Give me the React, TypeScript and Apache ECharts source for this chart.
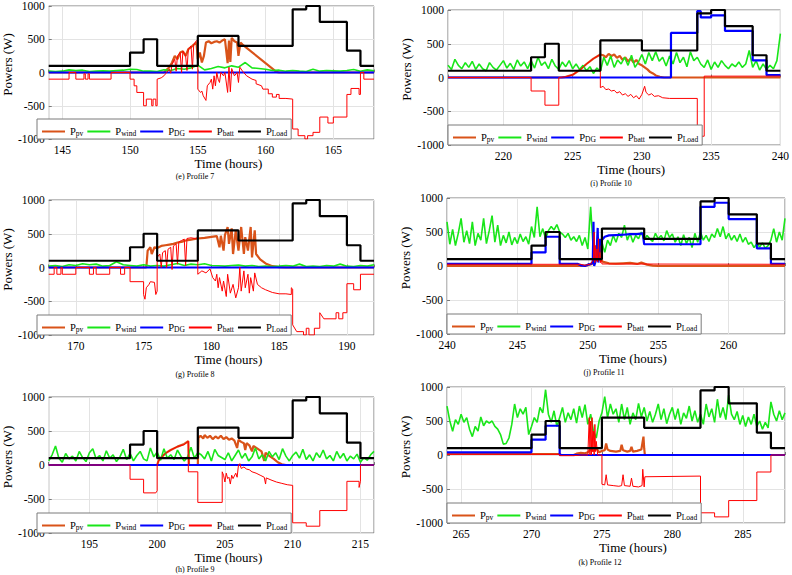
import React, { useEffect, useRef } from "react";
import * as echarts from "echarts";

// ---------------- DATA ----------------
// Panel (e) Profile 7 : 144-168 h
const LOAD_E = [[144,100],[150,300],[151,500],[152,100],[155,550],[158,400],[162,950],[163,1000],[164,760],[166,330],[167,100],[168,100]];
const DG_E = [[144,0],[168,0]];
const PV_E = [[144,0],[152.5,0],[152.7,40],[152.9,80],[153.1,150],[153.3,250],[153.5,200],[153.7,300],[153.9,320],[154.1,250],[154.3,350],[154.5,380],[154.7,420],[154.9,450],[155.0,200],[155.15,300],[155.3,150],[155.45,250],[155.6,450],[155.8,470],[156,440],[156.2,460],[156.4,470],[156.6,450],[156.8,480],[157,500],[157.2,140],[157.3,480],[157.4,160],[157.5,520],[157.7,470],[157.9,450],[158.0,250],[158.15,450],[158.3,420],[160.8,10],[161,0],[168,0]];
const BATT_E = [[144,-100],[145.5,-100],[145.5,0],[146,0],[146,-100],[146.6,-100],[146.6,-20],[146.7,-20],[146.7,-100],[146.9,-100],[146.9,-20],[147,-20],[147,-100],[148.6,-100],[148.6,0],[150,0],[150,-100],[150.3,-100],[150.3,-200],[150.5,-200],[150.5,-300],[151,-300],[151,-500],[151.2,-500],[151.2,-400],[151.6,-400],[151.6,-500],[151.7,-500],[151.7,-400],[151.9,-400],[151.9,-500],[152,-500],[152,-100],[152.3,-80],[152.5,-50],[152.7,0],[152.9,50],[153,-10],[153.1,120],[153.3,200],[153.4,20],[153.5,250],[153.7,300],[153.8,0],[153.9,320],[154.1,250],[154.2,30],[154.3,350],[154.5,400],[154.6,50],[154.7,420],[154.9,480],[155,450],[155,-250],[155.2,-300],[155.3,-280],[155.4,-350],[155.6,-420],[155.7,-200],[155.9,-150],[156,-100],[156.1,-250],[156.2,-50],[156.3,-200],[156.4,0],[156.5,-100],[156.6,-150],[156.7,0],[156.9,-50],[157,0],[157.2,-300],[157.3,80],[157.4,-290],[157.5,60],[157.7,-50],[157.9,0],[158,-150],[158.1,80],[158.3,20],[158.6,-50],[159,-100],[159.3,-120],[159.3,-170],[159.7,-200],[159.8,-250],[160.2,-250],[160.2,-320],[160.5,-320],[160.5,-370],[160.8,-370],[160.8,-330],[161,-330],[161,-390],[161.5,-390],[161.5,-400],[162,-400],[162,-850],[162.4,-850],[162.4,-950],[162.9,-950],[162.9,-1000],[163.1,-1000],[163.1,-950],[163.5,-950],[163.5,-900],[164,-900],[164,-670],[164.6,-670],[164.6,-760],[165,-760],[165,-670],[166,-670],[166,-330],[166.3,-330],[166.3,-240],[166.9,-240],[166.9,-330],[167,-330],[167,0],[167.25,0],[167.25,-100],[168,-100]];
const WIND_E_START = 144, WIND_E_STEP = 0.5;
const WIND_E = [20,15, 20,40, 30,35, 15,20, 25,20, 30,35, 50,45, 20,20, 15,40, 30,60, 50,70, 110,40, 60,90, 70,100, 80,150, 70,60, 50,30, 35,20, 30,20, 15,50, 20,30, 25,20, 30,45, 20,40, 25];

// Panel (i) Profile 10 : 216-240 h
const LOAD_I = [[216,100],[222,300],[223,500],[224,100],[227,550],[230,400],[234,950],[235,1000],[236,760],[238,330],[239,100],[240,100]];
const DG_I = [[216,0],[232.1,0],[232.1,660],[234,660],[234,985],[234.25,985],[234.25,890],[235,890],[235,920],[236,920],[236,690],[238,690],[238,255],[239,255],[239,35],[240,35]];
const PV_I = [[216,0],[224.2,0],[224.5,10],[225,40],[225.5,110],[226,200],[226.5,280],[227,340],[227.2,330],[227.4,300],[227.6,350],[227.8,320],[228,340],[228.2,290],[228.4,320],[228.6,260],[228.8,300],[229,240],[229.2,280],[229.4,220],[229.6,260],[229.8,200],[230,180],[230.2,150],[230.4,120],[230.6,80],[230.8,60],[231,30],[231.3,10],[231.6,0],[240,0]];
const BATT_I = [[216,0],[222,0],[222,-200],[223,-200],[223,-410],[224,-410],[224,0],[224.5,10],[225,40],[225.5,110],[226,200],[226.5,280],[227,340],[227,-150],[227.2,-130],[227.4,-180],[227.6,-170],[227.8,-200],[228,-190],[228.2,-230],[228.4,-210],[228.6,-260],[228.8,-240],[229,-280],[229.2,-250],[229.4,-300],[229.6,-270],[229.8,-320],[230,-250],[230.2,-130],[230.3,-220],[230.5,-260],[230.7,-240],[230.9,-280],[231.2,-270],[231.5,-300],[232,-310],[234,-310],[234,-870],[234.5,-870],[234.5,20],[240,20]];
const WIND_I_START = 216, WIND_I_STEP = 0.25;
const WIND_I = [180,120,270,180, 130,220,150,240, 120,200,130,100, 220,150,110,180, 250,140,210,120, 260,170,230,130, 250,140,300,180, 230,130,270,170, 120,230,160,250, 130,200,120,180, 100,160,60,140, 90,300,180,320, 150,260,200,300, 180,330,150,230, 340,200,370,250, 380,240,300,170, 320,200,370,220, 300,160,380,250, 300,200,150,260, 120,230,150,250, 180,130,200,160, 230,150,200,400, 150,250,110,200, 120,180,130,250, 650];

// Panel (g) Profile 8 : 168-192 h
const LOAD_G = [[168,100],[174,300],[175,500],[176,100],[179,550],[182,400],[186,950],[187,1000],[188,760],[190,330],[191,100],[192,100]];
const DG_G = [[168,0],[192,0]];
const PV_G = [[168,0],[175.2,0],[175.3,250],[175.5,300],[175.6,200],[175.8,300],[176,290],[176.3,320],[176.6,330],[176.9,340],[177.2,350],[177.5,370],[177.8,380],[178.1,400],[178.4,410],[178.7,420],[179,430],[179.5,440],[180,455],[180.4,465],[180.6,300],[180.7,470],[180.9,250],[181.0,480],[181.2,600],[181.3,350],[181.5,580],[181.6,200],[181.8,550],[182.0,250],[182.2,600],[182.4,200],[182.5,450],[182.7,250],[182.9,600],[183.0,150],[183.2,550],[183.3,200],[183.6,120],[184,60],[184.5,20],[185,5],[185.5,0],[192,0]];
const BATT_G = [[168,-100],[168.4,-100],[168.4,0],[168.6,0],[168.6,-100],[168.9,-100],[168.9,0],[169,0],[169,-100],[170,-100],[170,0],[171,0],[171,-100],[171.3,-100],[171.3,0],[171.5,0],[171.5,-100],[172.5,-100],[172.5,0],[173.3,0],[173.3,-100],[173.6,-100],[173.6,0],[174,0],[174,-210],[175,-210],[175,-400],[175.1,-470],[175.2,-300],[175.4,-250],[175.5,-210],[175.8,-220],[175.9,-400],[176,-350],[176,150],[176.2,200],[176.3,0],[176.4,220],[176.6,250],[176.7,0],[176.8,270],[177,300],[177.1,-30],[177.2,320],[177.4,350],[177.5,50],[177.6,380],[177.8,400],[178,420],[178.1,30],[178.2,430],[178.5,440],[178.8,430],[179,440],[179,-100],[179.3,-50],[179.6,-80],[179.9,-20],[180.1,-150],[180.3,-200],[180.4,-100],[180.5,-300],[180.6,-150],[180.8,-350],[180.9,-200],[181.1,-430],[181.2,-100],[181.4,-380],[181.6,-250],[181.8,-450],[182,-300],[182.1,0],[182.2,-350],[182.4,-50],[182.5,-300],[182.7,-100],[182.8,-380],[182.9,-150],[183.1,-350],[183.2,-80],[183.4,-250],[183.7,-300],[184,-330],[184.5,-370],[185,-390],[185.5,-390],[185.9,-400],[185.9,-300],[186,-320],[186,-850],[186.3,-950],[186.8,-950],[186.8,-1000],[187,-1000],[187,-900],[187.2,-900],[187.2,-1000],[187.6,-1000],[187.6,-900],[188,-900],[188,-670],[188.3,-760],[189.2,-760],[189.2,-670],[189.4,-670],[189.4,-760],[189.7,-760],[189.7,-670],[190,-670],[190,-240],[190.5,-240],[190.5,-330],[191,-330],[191,-100],[192,-100]];
const WIND_G_START = 168, WIND_G_STEP = 0.5;
const WIND_G = [20,30, 15,40, 30,55, 40,50, 20,30, 85,40, 30,20, 40,20, 30,20, 40,60, 30,50, 40,55, 30,25, 20,30, 35,20, 30,15, 20,15, 20,30, 20,50, 15,20, 15,30, 20,50, 20,15, 30,20, 40];

// Panel (j) Profile 11 : 240-264 h
const LOAD_J = [[240,100],[246,300],[247,500],[248,100],[251,550],[254,400],[258,950],[259,1000],[260,760],[262,330],[263,100],[264,100]];
const DG_J = [[240,30],[246,30],[246,200],[247,200],[247,430],[248,430],[248,30],[249.3,30],[249.5,10],[249.8,0],[250,20],[250.2,30],[250.35,50],[250.4,650],[250.45,0],[250.6,100],[250.7,560],[250.75,50],[250.85,400],[250.9,200],[251,380],[251.2,430],[251.5,450],[252,455],[252.5,460],[253,470],[253.5,470],[253.9,480],[254,320],[258,320],[258,870],[259,870],[259,930],[260,930],[260,690],[262,690],[262,260],[263,260],[263,30],[264,30]];
const PV_J = [[240,0],[249.5,0],[250,10],[250.3,30],[250.5,80],[250.7,120],[250.9,90],[251.1,60],[251.5,40],[252,35],[252.5,40],[253,45],[253.5,30],[253.8,50],[254.2,20],[254.6,5],[255,0],[264,0]];
const BATT_J = [[240,25],[249.5,25],[249.8,10],[250.2,30],[250.4,100],[250.45,500],[250.5,50],[250.55,300],[250.6,80],[250.65,250],[250.7,60],[250.75,400],[250.8,100],[250.85,200],[250.9,50],[250.95,300],[251,30],[264,25]];
const WIND_J_START = 240, WIND_J_STEP = 0.2;
const WIND_J = [650,320,540,300,480, 700,350,520,330,650, 300,480,380,700,330, 520,740,350,600,300, 450,340,500,310,420, 330,470,360,430,320, 580,420,870,430,550, 400,520,580,530,610, 500,470,420,480,380, 430,360,450,300,420, 250,870,200,300,150, 350,200,380,300,450, 350,480,420,600,380, 480,350,450,400,500, 380,450,400,360,480, 400,450,370,520,420, 470,350,430,300,460, 330,420,270,480,350, 500,380,450,360,470, 420,550,430,580,400, 480,380,450,360,470, 350,420,320,350,270, 330,280,340,260,300, 380,550,350,500,380, 700];

// Panel (h) Profile 9 : 192-216 h
const LOAD_H = [[192,100],[198,300],[199,500],[200,100],[203,550],[206,400],[210,950],[211,1000],[212,760],[214,330],[215,100],[216,100]];
const DG_H = [[192,0],[216,0]];
const PV_H = [[192,0],[200,0],[200.1,60],[200.3,110],[200.6,170],[201,220],[201.5,270],[202,310],[202.3,350],[202.35,0],[203,0],[203.05,400],[203.2,430],[203.4,390],[203.5,440],[203.7,400],[203.9,430],[204.1,380],[204.3,420],[204.5,390],[204.7,430],[204.9,380],[205.1,410],[205.3,370],[205.5,390],[205.7,360],[205.9,250],[206,370],[206.2,340],[206.4,320],[206.5,220],[206.6,320],[206.8,290],[207,200],[207.1,280],[207.4,240],[207.7,200],[207.9,60],[208,180],[208.3,130],[208.6,90],[208.9,40],[209.2,10],[209.5,0],[216,0]];
const BATT_H = [[192,0],[198,0],[198,-210],[199,-210],[199,-410],[199.9,-410],[200,-380],[200,0],[200.1,60],[200.3,110],[200.6,170],[201,220],[201.5,270],[202,300],[202.3,350],[202.3,-100],[203,-100],[203,-550],[204.8,-550],[204.8,-100],[204.9,-150],[205,-250],[205.1,-120],[205.2,-200],[205.3,-180],[205.4,-280],[205.5,-150],[205.6,-200],[205.8,-120],[205.9,-180],[206,0],[206.1,20],[206.2,-50],[206.4,-30],[206.6,-60],[206.8,-70],[207,-100],[207.3,-120],[207.6,-150],[207.9,-180],[208,-280],[208.05,-190],[208.4,-220],[208.8,-250],[209.2,-270],[209.6,-290],[210,-300],[210,-850],[211,-850],[211,-900],[212,-900],[212,-670],[214,-670],[214,-240],[214.9,-240],[214.9,-330],[215,-240],[215,0],[216,0]];
const WIND_H_START = 192, WIND_H_STEP = 0.25;
const WIND_H = [60,150,280,100, 40,170,90,130, 60,200,110,50, 180,240,90,140, 60,210,100,150, 50,120,230,80, 170,60,140,200, 90,60,250,120, 190,70,240,100, 150,80,220,130, 60,120,260,100, 180,150,90,200, 60,230,140,110, 80,180,60,140, 220,100,170,60, 120,250,90,150, 60,200,120,180, 80,240,130,60, 140,190,100,230, 80,150,60,180, 110,220,90,140, 60,200,100,170, 60,130,90,160, 40,110,70,150, 200];

// Panel (k) Profile 12 : 264-288 h
const LOAD_K = [[264,100],[270,300],[271,500],[272,100],[275,550],[278,400],[282,950],[283,1000],[284,760],[286,330],[287,100],[288,100]];
const DG_K = [[264,40],[270,40],[270,225],[271,225],[271,430],[272,430],[272,0],[288,0]];
const PV_K = [[264,15],[272,15],[272.1,0],[273,0],[273.2,20],[273.5,30],[273.8,25],[274,40],[274.2,80],[274.4,60],[274.6,100],[274.8,40],[275,60],[275.2,70],[275.3,170],[275.4,80],[275.6,60],[276,50],[276.3,60],[276.4,150],[276.5,70],[276.8,50],[277,60],[277.1,120],[277.2,50],[277.5,60],[277.8,80],[277.95,270],[278,100],[278.05,0],[288,0]];
const BATT_K = [[264,10],[272,10],[272,-10],[273,-10],[273.5,0],[274,0],[274.1,550],[274.15,0],[274.2,500],[274.25,0],[274.3,550],[274.35,50],[274.4,350],[274.45,0],[274.5,450],[274.55,50],[274.6,200],[274.7,0],[275,0],[275,-430],[275.2,-440],[275.3,-290],[275.4,-440],[275.8,-450],[276.2,-460],[276.4,-450],[276.5,-290],[276.6,-450],[277,-460],[277.1,-340],[277.2,-460],[277.6,-470],[277.85,-450],[277.9,-210],[278,-470],[278.05,-320],[282,-310],[282,-850],[283,-850],[283,-910],[284,-910],[284,-670],[286,-670],[286,-250],[287,-250],[287,0],[288,0]];
const WIND_K_START = 264, WIND_K_STEP = 0.2;
const WIND_K = [720,500,350,520,450, 600,480,550,380,270, 420,350,560,430,500, 470,500,420,380,300, 160,170,250,450,750, 550,680,600,700,300, 420,550,480,700,620, 960,600,480,650,420, 550,700,480,620,520, 680,470,720,550,740, 450,600,350,250,500, 620,860,550,750,600, 680,480,750,520,700, 450,620,520,760,560, 700,500,640,480,600, 750,520,680,460,600, 700,520,680,450,620, 540,720,500,650,480, 600,450,750,560,680, 480,820,550,700,520, 880,600,520,640,450, 580,420,560,450,600, 420,500,380,480,400, 780,600,500,650,520, 620];

const Y_TICKS = [-1000, -500, 0, 500, 1000];
const SERIES_NAMES = ["pv", "wind", "DG", "batt", "Load"];
const X_LABEL = "Time (hours)";
const Y_LABEL = "Powers (W)";

// ---------------- LAYOUT / STYLE ----------------
const FONT = "serif";
const STYLES: Record<string, { color: string; width: number; step?: string }> = {
  pv: { color: "#D95319", width: 2.2 },
  wind: { color: "#19E619", width: 1.6 },
  DG: { color: "#0000FF", width: 2.2 },
  batt: { color: "#FF0000", width: 1 },
  Load: { color: "#000000", width: 2.2, step: "end" },
};

const toPts = (vals: number[], start: number, step: number) =>
  vals.map((v, i) => [start + i * step, v]);

const PANELS = [
  { left: 37, top: 3, w: 337, h: 136, xmin: 144, xmax: 168, cap: "(e) Profile 7", capX: 195, capY: 176,
    data: { pv: PV_E, wind: toPts(WIND_E, WIND_E_START, WIND_E_STEP), DG: DG_E, batt: BATT_E, Load: LOAD_E } },
  { left: 448, top: 10, w: 337, h: 135, xmin: 216, xmax: 240, cap: "(i) Profile 10", capX: 611, capY: 183,
    data: { pv: PV_I, wind: toPts(WIND_I, WIND_I_START, WIND_I_STEP), DG: DG_I, batt: BATT_I, Load: LOAD_I } },
  { left: 37, top: 200, w: 337, h: 135, xmin: 168, xmax: 192, cap: "(g) Profile 8", capX: 195, capY: 374,
    data: { pv: PV_G, wind: toPts(WIND_G, WIND_G_START, WIND_G_STEP), DG: DG_G, batt: BATT_G, Load: LOAD_G } },
  { left: 447, top: 198, w: 338, h: 136, xmin: 240, xmax: 264, cap: "(j) Profile 11", capX: 604, capY: 372,
    data: { pv: PV_J, wind: toPts(WIND_J, WIND_J_START, WIND_J_STEP), DG: DG_J, batt: BATT_J, Load: LOAD_J } },
  { left: 37, top: 397, w: 337, h: 136, xmin: 192, xmax: 216, cap: "(h) Profile 9", capX: 195, capY: 569,
    data: { pv: PV_H, wind: toPts(WIND_H, WIND_H_START, WIND_H_STEP), DG: DG_H, batt: BATT_H, Load: LOAD_H } },
  { left: 447, top: 387, w: 338, h: 136, xmin: 264, xmax: 288, cap: "(k) Profile 12", capX: 600, capY: 562,
    data: { pv: PV_K, wind: toPts(WIND_K, WIND_K_START, WIND_K_STEP), DG: DG_K, batt: BATT_K, Load: LOAD_K } },
];

function buildOption() {
  const grid: any[] = [];
  const xAxis: any[] = [];
  const yAxis: any[] = [];
  const series: any[] = [];
  const legend: any[] = [];
  const graphic: any[] = [];

  PANELS.forEach((p, i) => {
    grid.push({ left: p.left, top: p.top, width: p.w, height: p.h, show: true,
      borderColor: "#7a7a7a", borderWidth: 1, backgroundColor: "#fff" });
    xAxis.push({
      type: "value", gridIndex: i, min: p.xmin, max: p.xmax, splitNumber: 5,
      axisLine: { show: false },
      axisTick: { show: true, inside: true, length: 3, lineStyle: { color: "#7a7a7a" } },
      axisLabel: { color: "#000", fontFamily: FONT, fontSize: 11.5, margin: 5,
        formatter: (v: number) => (v % 5 === 0 ? String(v) : "") },
      splitLine: { show: true, lineStyle: { color: "#e3e3e3", width: 1 } },
      name: X_LABEL, nameLocation: "middle", nameGap: 16,
      nameTextStyle: { color: "#000", fontFamily: FONT, fontSize: 13, padding: [0, 0, 0, 34] },
    });
    yAxis.push({
      type: "value", gridIndex: i, min: Y_TICKS[0], max: Y_TICKS[Y_TICKS.length - 1], interval: 500,
      axisLine: { show: false },
      axisTick: { show: true, inside: true, length: 3, lineStyle: { color: "#7a7a7a" } },
      axisLabel: { color: "#000", fontFamily: FONT, fontSize: 11.5, margin: 4,
        formatter: (v: number) => String(v) },
      splitLine: { show: true, lineStyle: { color: "#e3e3e3", width: 1 } },
      name: Y_LABEL, nameLocation: "middle", nameGap: 24,
      nameTextStyle: { color: "#000", fontFamily: FONT, fontSize: 13, padding: [0, 0, 0, 16] },
    });
    SERIES_NAMES.forEach((n, k) => {
      const st = STYLES[n];
      const s: any = {
        type: "line", name: n, xAxisIndex: i, yAxisIndex: i,
        data: (p.data as any)[n], showSymbol: false, symbol: "none",
        lineStyle: { color: st.color, width: st.width }, itemStyle: { color: st.color },
        z: 2 + k, silent: true, clip: true,
      };
      if (st.step) s.step = st.step;
      series.push(s);
    });
    legend.push({
      data: SERIES_NAMES, left: p.left, top: Math.round(p.top + p.h * 0.85), orient: "horizontal",
      backgroundColor: "#fff", borderColor: "#7a7a7a", borderWidth: 1, padding: [2, 4, 2, 4],
      itemWidth: 23, itemHeight: 12, itemGap: 3, z: 20,
      itemStyle: { opacity: 0, borderWidth: 0 },
      formatter: (name: string) => `{p|P}{s|${name}}`,
      textStyle: {
        fontFamily: FONT, color: "#000",
        rich: {
          p: { fontFamily: FONT, fontSize: 10.5, color: "#000", verticalAlign: "top", lineHeight: 11 },
          s: { fontFamily: FONT, fontSize: 7.5, color: "#000", verticalAlign: "bottom", lineHeight: 8, padding: [8, 0, 0, 0] },
        },
      },
    });
    graphic.push({ type: "text", x: p.capX, y: p.capY,
      style: { text: p.cap, fill: "#000", fontFamily: FONT, fontSize: 8, align: "center", verticalAlign: "middle" } });
  });

  return { animation: false, backgroundColor: "#fff", grid, xAxis, yAxis, series, legend, graphic };
}

export default function App() {
  const ref = useRef<HTMLDivElement>(null);
  useEffect(() => {
    if (!ref.current) return;
    const chart = echarts.init(ref.current, undefined, { renderer: "svg" });
    chart.setOption(buildOption() as any);
    return () => chart.dispose();
  }, []);
  return <div ref={ref} style={{ position: "absolute", left: 0, top: 0, width: 792, height: 575 }} />;
}
